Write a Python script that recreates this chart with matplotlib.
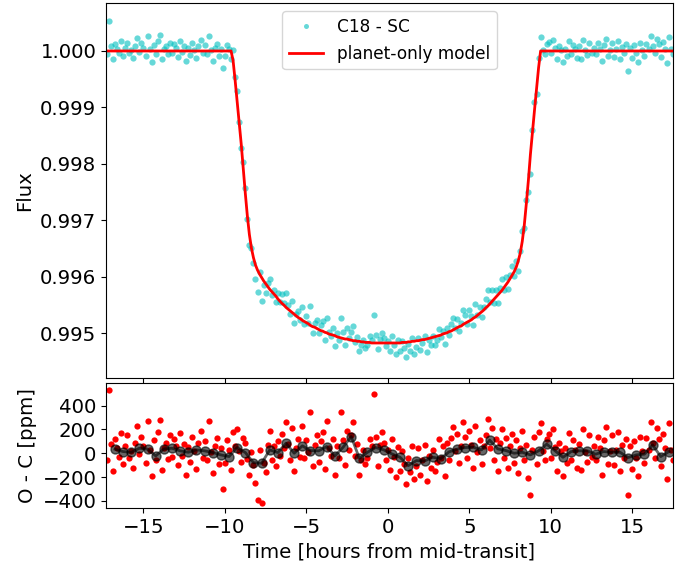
import numpy as np
import matplotlib
matplotlib.use('Agg')
import matplotlib.pyplot as plt

# Short-cadence time grid (hours from mid-transit)
t_start = -17.25
cadence = 0.125

# Planet-only model, depth below 1 in ppm at each cadence
model_ppm = [
    0, 0, 0, 0, 0, 0, 0, 0, 0, 0, 0, 0, 0, 0, 0, 0,
    0, 0, 0, 0, 0, 0, 0, 0, 0, 0, 0, 0, 0, 0, 0, 0,
    0, 0, 0, 0, 0, 0, 0, 0, 0, 0, 0, 0, 0, 0, 0, 0,
    0, 0, 0, 0, 0, 0, 0, 0, 0, 0, 0, 0, 0, 0,
    170, 520, 900, 1280, 1650, 2090, 2520, 2920,
    3250, 3490, 3660, 3790, 3880, 3950, 4010, 4070,
    4120, 4170, 4220, 4260, 4300, 4340, 4390, 4430,
    4470, 4500, 4540, 4570, 4600, 4630, 4660, 4690,
    4720, 4740, 4770, 4790, 4810, 4830, 4860, 4880,
    4890, 4910, 4930, 4950, 4960, 4980, 4990, 5010,
    5020, 5030, 5040, 5060, 5070, 5080, 5090, 5100,
    5100, 5110, 5120, 5130, 5130, 5140, 5140, 5150,
    5150, 5160, 5160, 5160, 5170, 5170, 5170, 5170,
    5170, 5170, 5170, 5170, 5170, 5170, 5170, 5170,
    5170, 5170, 5170, 5160, 5160, 5160, 5150, 5150,
    5140, 5140, 5130, 5130, 5120, 5110, 5110, 5100,
    5090, 5080, 5070, 5060, 5050, 5040, 5030, 5010,
    5000, 4990, 4970, 4960, 4940, 4920, 4900, 4880,
    4870, 4840, 4820, 4800, 4780, 4760, 4730, 4710,
    4680, 4650, 4620, 4590, 4550, 4520, 4480, 4440,
    4400, 4360, 4320, 4280, 4240, 4190, 4140, 4090,
    4030, 3970, 3910, 3830, 3720, 3580, 3370, 3080,
    2700, 2290, 1830, 1430, 1050, 680, 300,
    0, 0, 0, 0, 0, 0, 0, 0, 0, 0, 0, 0, 0, 0, 0, 0,
    0, 0, 0, 0, 0, 0, 0, 0, 0, 0, 0, 0, 0, 0, 0, 0,
    0, 0, 0, 0, 0, 0, 0, 0, 0, 0, 0, 0, 0, 0, 0, 0,
    0, 0, 0, 0, 0, 0, 0, 0, 0, 0, 0, 0, 0, 0, 0, 0,
    0, 0,
]

# Observed minus computed (ppm) at each cadence
resid_ppm = [
    -60, 535, 80, -150, 120, 40, -30, 170,
    -90, 60, 150, -40, 20, -120, 90, 230,
    -10, 140, 60, -80, 270, 30, -190, 110,
    -60, 180, 280, -140, 40, 90, -50, 150,
    -30, 120, 60, -100, 170, -20, 80, -180,
    50, -70, 140, 20, -130, 90, 190, -40,
    100, -60, 270, 10, -170, 60, 130, -90,
    40, -300, -80, 110, 30, -140, 180, 60,
    200, 20, -70, 130, 90, -50, -180, 10,
    -100, -250, -390, 30, -420, -80, -160, 70,
    190, -60, 60, -110, 100, -20, 160, 40,
    260, 80, -60, 210, -150, 40, 120, -30,
    230, -40, 110, 10, 345, -110, 70, 150,
    -70, 100, 180, -130, 270, 40, -20, 120,
    -180, 60, -40, 345, 110, -100, 190, 30,
    150, 260, -20, 80, -180, -60, 30, -90,
    -40, 120, 60, 500, 140, -110, 70, 180,
    90, -60, 30, -140, 120, -30, -200, 50,
    -150, 20, -90, -260, -40, -160, 60, -220,
    -110, 40, -180, -60, 70, -230, -20, -120,
    30, -150, -70, 120, -40, 60, -190, 90,
    -60, 130, 220, 20, 160, -80, 60, 260,
    140, -40, 190, 70, -120, 230, 10, 110,
    -90, 60, 150, 290, 40, 210, -60, 120,
    -150, 90, 200, -40, 130, -120, 60, 160,
    -80, 110, -170, 40, 190, -60, 70, -210,
    -350, 30, 140, -90, 180, 250, 20, -60,
    120, 160, -40, 200, 50, -150, 90, 20,
    -190, 40, -80, 170, -60, 110, 30, -120,
    80, -140, 200, 10, -70, 150, -30, 60,
    -60, 140, 40, -180, 110, 220, -90, 20,
    150, -100, 30, 180, -150, 70, -40, 120,
    -350, 60, -130, 100, -40, -190, 140, 20,
    -80, 130, 30, 260, 90, -40, 210, 120,
    -110, 160, 40, -220, 250, 30, -60,
]

# 30-minute binned residuals (ppm)
bin_start = -16.75
bin_width = 0.5
bin_resid = [
    34, 14, 8, 42, 34, -22, 36, 42, 20, 8, 28, 20, 6, -14, -28, 48,
    6, -79, -84, 28, 6, 84, 0, 62, 22, 20, 56, -22, 50, 140, -42, 8,
    48, 28, -6, -34, -104, -62, -65, -34, -45, 11, 34, 48, 50, 28, 110,
    36, 22, 0, 8, -14, 20, 76, 22, -34, 14, 20, 20, -8, 14, 8, 8, -36,
    -14, -8, 70, -28, 14,
]

n = min(len(model_ppm), len(resid_ppm))
time = t_start + cadence * np.arange(n)
model = 1.0 - np.array(model_ppm[:n]) * 1e-6
resid = np.array(resid_ppm[:n], dtype=float)
flux = model + resid * 1e-6
bin_time = bin_start + bin_width * np.arange(len(bin_resid))

plt.rcParams['font.size'] = 14.2

fig = plt.figure(figsize=(6.92, 5.63), dpi=100)
ax1 = fig.add_axes([0.1532, 0.3286, 0.8193, 0.6661])
ax2 = fig.add_axes([0.1532, 0.0977, 0.8193, 0.2220])

# Light curve with model
ax1.plot(time, flux, 'o', color='c', ms=4.5, alpha=0.6, mec='none', label='C18 - SC')
ax1.plot(time, model, 'r-', lw=2, label='planet-only model')
ax1.set_xlim(-17.3, 17.5)
ax1.set_ylim(0.99421, 1.00085)
ax1.set_yticks([0.995, 0.996, 0.997, 0.998, 0.999, 1.000])
ax1.yaxis.set_major_formatter(matplotlib.ticker.FormatStrFormatter('%.3f'))
ax1.set_xticks([-15, -10, -5, 0, 5, 10, 15])
ax1.tick_params(labelbottom=False)
ax1.set_ylabel('Flux')
ax1.legend(loc='upper center', fontsize=12.2, markerscale=0.8)

# Residuals
ax2.plot(time, resid, 'o', color='r', ms=4.5, mec='none')
ax2.plot(bin_time, bin_resid, 'o-', color='k', ms=6.5, lw=2, alpha=0.6)
ax2.set_xlim(-17.3, 17.5)
ax2.set_ylim(-460, 590)
ax2.set_yticks([-400, -200, 0, 200, 400])
ax2.set_xticks([-15, -10, -5, 0, 5, 10, 15])
ax2.set_xlabel('Time [hours from mid-transit]')
ax2.set_ylabel('O - C [ppm]')

fig.savefig('out.png', dpi=100)
